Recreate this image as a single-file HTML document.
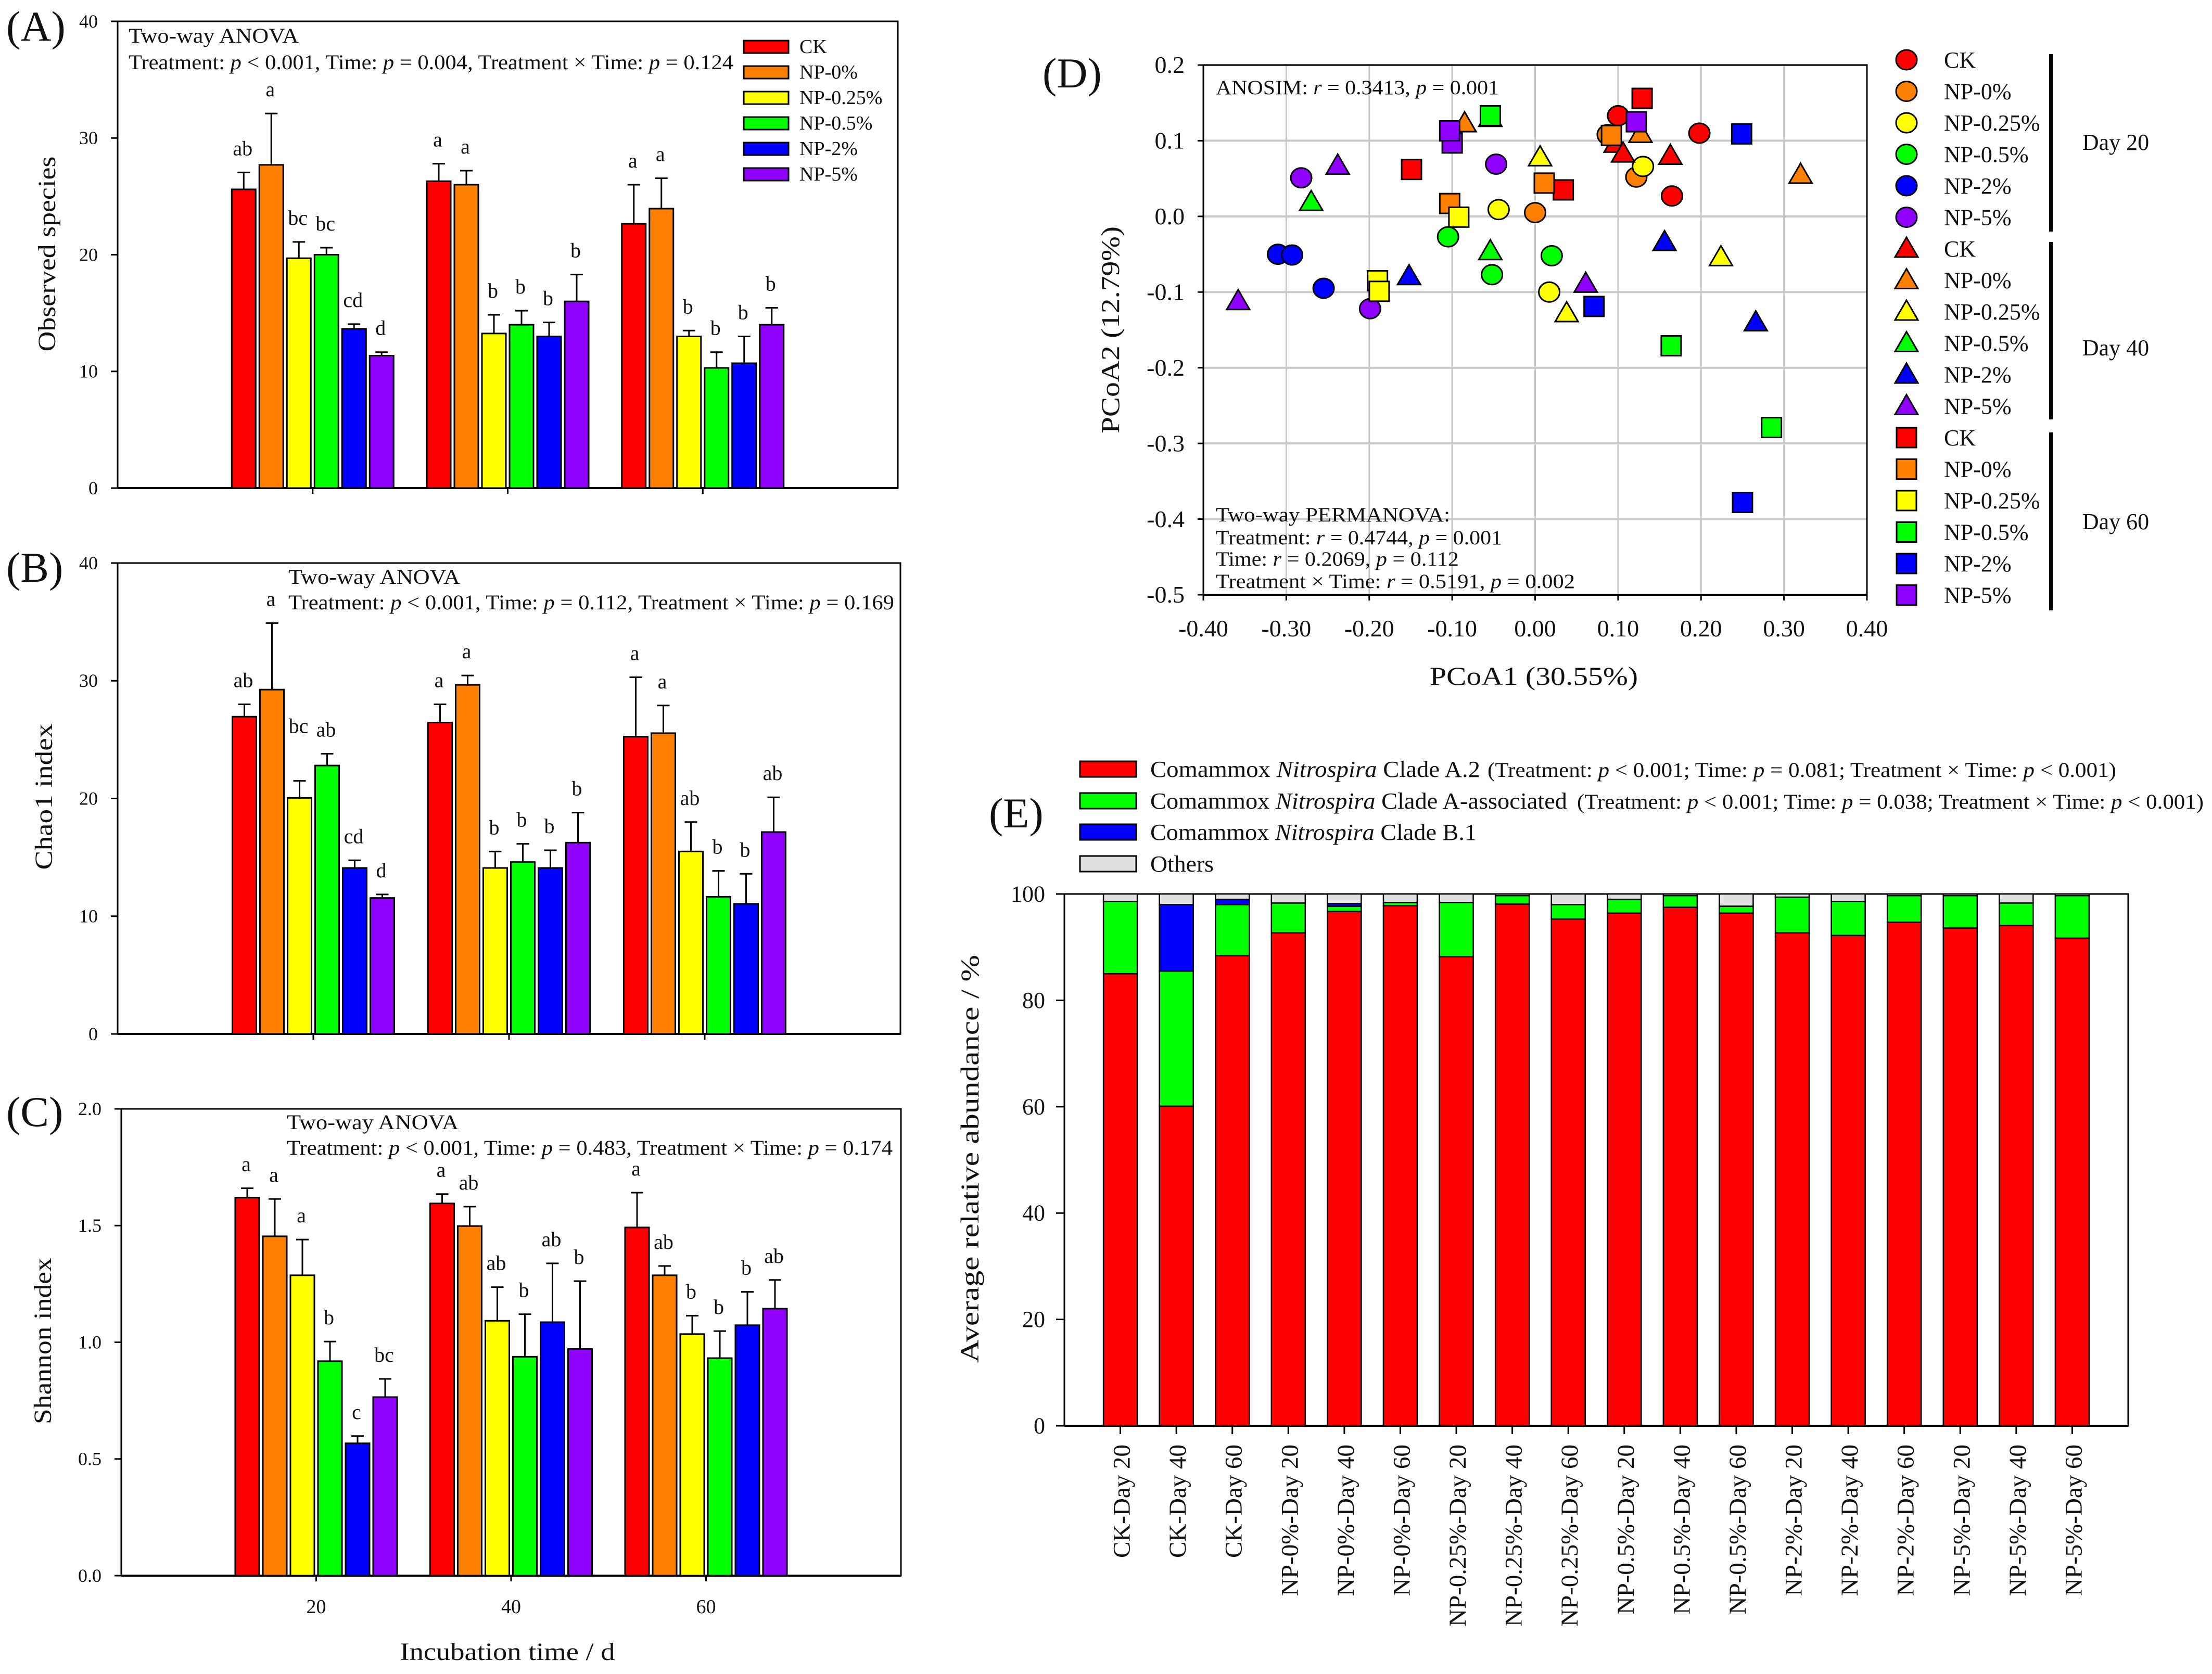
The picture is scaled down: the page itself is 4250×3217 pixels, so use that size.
<!DOCTYPE html>
<html lang="en">
<head>
<meta charset="utf-8">
<title>Comammox Nitrospira diversity and abundance figure</title>
<style>
html,body{margin:0;padding:0;background:#fff}
svg{display:block;font-family:"Liberation Serif","Times New Roman",serif;fill:#000}
text{fill:#111}
.p{font-style:italic}
</style>
</head>
<body>
<svg id="figure" xmlns="http://www.w3.org/2000/svg" width="4250" height="3217" viewBox="0 0 4250 3217">
<rect width="4250" height="3217" fill="#fff"/>

<text x="12" y="78" font-size="82">(A)</text>
<text x="12" y="1118" font-size="82">(B)</text>
<text x="12" y="2164" font-size="82">(C)</text>
<text x="2003" y="168" font-size="82">(D)</text>
<text x="1900" y="1590" font-size="82">(E)</text>

<g id="panelA">
  <text transform="translate(106,488) rotate(-90)" text-anchor="middle" font-size="48" textLength="375" lengthAdjust="spacingAndGlyphs">Observed species</text>
  <text x="247" y="82" font-size="40" textLength="327" lengthAdjust="spacingAndGlyphs">Two-way ANOVA</text>
  <text x="247" y="133" font-size="40" textLength="1162" lengthAdjust="spacingAndGlyphs">Treatment: <tspan class="p">p</tspan> &lt; 0.001, Time: <tspan class="p">p</tspan> = 0.004, Treatment × Time: <tspan class="p">p</tspan> = 0.124</text>
</g>
<g id="panelB">
  <text transform="translate(100,1531) rotate(-90)" text-anchor="middle" font-size="48" textLength="281" lengthAdjust="spacingAndGlyphs">Chao1 index</text>
  <text x="554" y="1122" font-size="40" textLength="330" lengthAdjust="spacingAndGlyphs">Two-way ANOVA</text>
  <text x="554" y="1171" font-size="40" textLength="1164" lengthAdjust="spacingAndGlyphs">Treatment: <tspan class="p">p</tspan> &lt; 0.001, Time: <tspan class="p">p</tspan> = 0.112, Treatment × Time: <tspan class="p">p</tspan> = 0.169</text>
</g>
<g id="panelC">
  <text transform="translate(98,2577) rotate(-90)" text-anchor="middle" font-size="48" textLength="320" lengthAdjust="spacingAndGlyphs">Shannon index</text>
  <text x="551" y="2170" font-size="40" textLength="330" lengthAdjust="spacingAndGlyphs">Two-way ANOVA</text>
  <text x="551" y="2219" font-size="40" textLength="1164" lengthAdjust="spacingAndGlyphs">Treatment: <tspan class="p">p</tspan> &lt; 0.001, Time: <tspan class="p">p</tspan> = 0.483, Treatment × Time: <tspan class="p">p</tspan> = 0.174</text>
  <text x="975" y="3190" text-anchor="middle" font-size="48" textLength="413" lengthAdjust="spacingAndGlyphs">Incubation time / d</text>
</g>
<g id="panelD">
  <text transform="translate(2150,634) rotate(-90)" text-anchor="middle" font-size="50" textLength="398" lengthAdjust="spacingAndGlyphs">PCoA2 (12.79%)</text>
  <text x="2947" y="1316" text-anchor="middle" font-size="50" textLength="400" lengthAdjust="spacingAndGlyphs">PCoA1 (30.55%)</text>
  <text x="4065" y="288" font-size="44" text-anchor="middle">Day 20</text>
  <text x="4065" y="683" font-size="44" text-anchor="middle">Day 40</text>
  <text x="4065" y="1017" font-size="44" text-anchor="middle">Day 60</text>
  <rect x="3937" y="104" width="7" height="341" fill="#000"/>
  <rect x="3937" y="465" width="7" height="341" fill="#000"/>
  <rect x="3937" y="831" width="7" height="342" fill="#000"/>
</g>
<g id="panelDNotes">
  <text x="2336" y="181" font-size="39" textLength="544" lengthAdjust="spacingAndGlyphs">ANOSIM: <tspan class="p">r</tspan> = 0.3413, <tspan class="p">p</tspan> = 0.001</text>
  <text x="2336" y="1002" font-size="39" textLength="450" lengthAdjust="spacingAndGlyphs">Two-way PERMANOVA:</text>
  <text x="2336" y="1046" font-size="39" textLength="550" lengthAdjust="spacingAndGlyphs">Treatment: <tspan class="p">r</tspan> = 0.4744, <tspan class="p">p</tspan> = 0.001</text>
  <text x="2336" y="1087" font-size="39" textLength="467" lengthAdjust="spacingAndGlyphs">Time: <tspan class="p">r</tspan> = 0.2069, <tspan class="p">p</tspan> = 0.112</text>
  <text x="2336" y="1130" font-size="39" textLength="690" lengthAdjust="spacingAndGlyphs">Treatment × Time: <tspan class="p">r</tspan> = 0.5191, <tspan class="p">p</tspan> = 0.002</text>
</g>
<g id="panelE">
  <text transform="translate(1880,2227) rotate(-90)" text-anchor="middle" font-size="50" textLength="784" lengthAdjust="spacingAndGlyphs">Average relative abundance / %</text>
  <rect x="2075" y="1463" width="108" height="30" fill="#ff0000" stroke="#000" stroke-width="3"/>
  <text x="2210" y="1493" font-size="44" textLength="634" lengthAdjust="spacingAndGlyphs">Comammox <tspan class="p">Nitrospira</tspan> Clade A.2</text>
  <text x="2858" y="1493" font-size="40" textLength="1208" lengthAdjust="spacingAndGlyphs">(Treatment: <tspan class="p">p</tspan> &lt; 0.001; Time: <tspan class="p">p</tspan> = 0.081; Treatment × Time:  <tspan class="p">p</tspan> &lt; 0.001)</text>
  <rect x="2075" y="1524" width="108" height="30" fill="#00ff00" stroke="#000" stroke-width="3"/>
  <text x="2210" y="1554" font-size="44" textLength="801" lengthAdjust="spacingAndGlyphs">Comammox <tspan class="p">Nitrospira</tspan> Clade A-associated</text>
  <text x="3030" y="1554" font-size="40" textLength="1204" lengthAdjust="spacingAndGlyphs">(Treatment: <tspan class="p">p</tspan> &lt; 0.001; Time: <tspan class="p">p</tspan> = 0.038; Treatment × Time:  <tspan class="p">p</tspan> &lt; 0.001)</text>
  <rect x="2075" y="1584" width="108" height="30" fill="#0000ff" stroke="#000" stroke-width="3"/>
  <text x="2210" y="1614" font-size="44" textLength="627" lengthAdjust="spacingAndGlyphs">Comammox <tspan class="p">Nitrospira</tspan> Clade B.1</text>
  <rect x="2075" y="1645" width="108" height="30" fill="#e0e0e0" stroke="#000" stroke-width="3"/>
  <text x="2210" y="1675" font-size="44" textLength="122" lengthAdjust="spacingAndGlyphs">Others</text>
</g>
</svg>

<script>
// ---------- Shared categories ----------
const treatments = ["CK", "NP-0%", "NP-0.25%", "NP-0.5%", "NP-2%", "NP-5%"];
const treatmentColors = ["#ff0000", "#ff8000", "#ffff00", "#00ff00", "#0000ff", "#8f00ff"];
const incubationDays = [20, 40, 60];

// ---------- Panel A: observed species ----------
const speciesMeans = [25.6,27.7,19.7,20,13.65,11.35, 26.3,26,13.25,14,13,16, 22.65,23.95,13,10.3,10.7,14];
const speciesErrors = [1.45,4.4,1.4,0.6,0.4,0.3, 1.5,1.2,1.6,1.2,1.2,2.3, 3.35,2.6,0.5,1.35,2.3,1.45];
const speciesLetters = ["ab","a","bc","bc","cd","d", "a","a","b","b","b","b", "a","a","b","b","b","b"];
const speciesTicks = [0, 10, 20, 30, 40];
const speciesTickLabels = ["0", "10", "20", "30", "40"];

// ---------- Panel B: Chao1 index ----------
const chaoMeans = [26.95,29.25,20.05,22.8,14.1,11.55, 26.45,29.65,14.1,14.6,14.1,16.25, 25.25,25.55,15.5,11.65,11.05,17.15];
const chaoErrors = [1.05,5.65,1.45,1,0.65,0.3, 1.55,0.8,1.4,1.55,1.5,2.55, 5.05,2.35,2.5,2.2,2.55,2.95];
const chaoLetters = ["ab","a","bc","ab","cd","d", "a","a","b","b","b","b", "a","a","ab","b","b","ab"];
const chaoTicks = [0, 10, 20, 30, 40];
const chaoTickLabels = ["0", "10", "20", "30", "40"];

// ---------- Panel C: Shannon index ----------
const shannonMeans = [1.62,1.454,1.287,0.919,0.567,0.765, 1.595,1.498,1.092,0.938,1.086,0.971, 1.492,1.287,1.035,0.932,1.073,1.144];
const shannonErrors = [0.04,0.16,0.153,0.084,0.031,0.078, 0.04,0.083,0.144,0.182,0.252,0.291, 0.149,0.04,0.079,0.116,0.143,0.123];
const shannonLetters = ["a","a","a","b","c","bc", "a","ab","ab","b","ab","b", "a","ab","b","b","b","ab"];
const shannonTicks = [0, 0.5, 1, 1.5, 2];
const shannonTickLabels = ["0.0", "0.5", "1.0", "1.5", "2.0"];

// ---------- Panel D: PCoA (three replicates per treatment, in treatment order) ----------
const day20PC1 = [0.1,0.198,0.165, 0.0875,0.122,0, 0.13,-0.044,0.017, -0.105,0.02,-0.052, -0.31,-0.293,-0.255, -0.282,-0.047,-0.199];
const day20PC2 = [0.133,0.11,0.027, 0.108,0.052,0.005, 0.066,0.009,-0.1, -0.027,-0.052,-0.077, -0.05,-0.051,-0.095, 0.051,0.069,-0.122];
const day40PC1 = [0.097,0.106,0.163, 0.127,-0.085,0.32, 0.006,0.224,0.038, -0.27,-0.054,-0.054, 0.156,-0.152,0.266, -0.238,-0.358,0.061];
const day40PC2 = [0.096,0.083,0.08, 0.109,0.123,0.055, 0.078,-0.054,-0.128, 0.019,-0.046,0.13, -0.034,-0.079,-0.14, 0.067,-0.112,-0.089];
const day60PC1 = [0.129,-0.149,0.034, 0.092,0.011,-0.103, -0.092,-0.19,-0.188, -0.054,0.164,0.285, 0.249,0.071,0.25, 0.122,-0.1,-0.103];
const day60PC2 = [0.156,0.062,0.035, 0.107,0.044,0.017, -0.001,-0.085,-0.099, 0.133,-0.171,-0.279, 0.109,-0.119,-0.378, 0.125,0.097,0.113];
const pc1Ticks = [-0.4,-0.3,-0.2,-0.1,0,0.1,0.2,0.3,0.4];
const pc1TickLabels = ["-0.40","-0.30","-0.20","-0.10","0.00","0.10","0.20","0.30","0.40"];
const pc2Ticks = [-0.5,-0.4,-0.3,-0.2,-0.1,0,0.1,0.2];
const pc2TickLabels = ["-0.5","-0.4","-0.3","-0.2","-0.1","0.0","0.1","0.2"];

// ---------- Panel E: stacked abundance ----------
const sampleLabels = ["CK-Day 20","CK-Day 40","CK-Day 60","NP-0%-Day 20","NP-0%-Day 40","NP-0%-Day 60","NP-0.25%-Day 20","NP-0.25%-Day 40","NP-0.25%-Day 60","NP-0.5%-Day 20","NP-0.5%-Day 40","NP-0.5%-Day 60","NP-2%-Day 20","NP-2%-Day 40","NP-2%-Day 60","NP-5%-Day 20","NP-5%-Day 40","NP-5%-Day 60"];
const cladeA2 = [85,60.1,88.4,92.7,96.7,97.8,88.2,98.1,95.3,96.4,97.5,96.4,92.7,92.2,94.7,93.6,94.1,91.7];
const cladeAassociated = [13.6,25.4,9.6,5.6,1,0.6,10.2,1.6,2.7,2.6,2.2,1.3,6.7,6.4,5,6.1,4.2,8];
const cladeB1 = [0,12.5,1,0,0.5,0,0,0,0,0,0,0,0,0,0,0,0,0];
const cladeOthers = [1.4,2,1,1.7,1.8,1.6,1.6,0.3,2,1,0.3,2.3,0.6,1.4,0.3,0.3,1.7,0.3];
const abundanceTicks = [0, 20, 40, 60, 80, 100];
const abundanceTickLabels = ["0", "20", "40", "60", "80", "100"];

// ---------- Helpers ----------
const NS = "http://www.w3.org/2000/svg";
function mk(tag, attrs, parent, txt) {
  const el = document.createElementNS(NS, tag);
  for (const k in attrs) el.setAttribute(k, attrs[k]);
  if (txt !== undefined) el.textContent = txt;
  parent.appendChild(el);
  return el;
}

function drawFrame(g, L, R, T, B) {
  const frame = mk("path", {d: "M"+L+" "+T+"H"+R+"V"+B+"H"+L+"Z", fill: "none", stroke: "#000", "stroke-width": 3}, g);
  
  
  const base = mk("line", {x1: L, x2: R, y1: B, y2: B, stroke: "#000", "stroke-width": 4}, g);
  
  
}

function drawYAxis(g, L, yScale, ticks, labels, size, tickLen, gap) {
  ticks.forEach(function (t, i) {
    const y = yScale(t);
    const tick = mk("line", {x1: L - tickLen, x2: L, y1: y, y2: y, stroke: "#000", "stroke-width": 3}, g);
    
    
    const lab = mk("text", {x: L - gap, y: y + size * 0.33, "text-anchor": "end", "font-size": size}, g, labels[i]);
    
    
  });
}

// ---------- Grouped bar panels ----------
function drawBars(g, c) {
  const x = function (d) { return c.L + (d / 80) * (c.R - c.L); };
  const y = function (v) { return c.B - (v / c.yMax) * (c.B - c.T); };
  const barW = 46, pitch = 53, bars = treatments.length;
  drawFrame(g, c.L, c.R, c.T, c.B);
  drawYAxis(g, c.L, y, c.ticks, c.tickLabels, 36, 13, 38);
  incubationDays.forEach(function (d, gi) {
    const tx = x(d);
    const tick = mk("line", {x1: tx, x2: tx, y1: c.B, y2: c.B + 11, stroke: "#000", "stroke-width": 3}, g);
    
    
    if (c.showDays) {
      const lab = mk("text", {x: tx, y: c.B + 72, "text-anchor": "middle", "font-size": 38}, g, String(d));
      
      
    }
    treatments.forEach(function (name, si) {
      const i = gi * bars + si;
      const bx = tx - (pitch * (bars - 1) + barW) / 2 + si * pitch;
      const cx = bx + barW / 2;
      const top = y(c.means[i]);
      const errTop = y(c.means[i] + c.errors[i]);
      const err = mk("path", {d: "M"+cx+" "+top+"V"+errTop+"M"+(cx-12)+" "+errTop+"H"+(cx+12), fill: "none", stroke: "#000", "stroke-width": 3}, g);
      
      
      const bar = mk("rect", {x: bx, y: top, width: barW, height: c.B - top, fill: treatmentColors[si], stroke: "#000", "stroke-width": 3}, g);
      
      
      const lift = (c.nudge && c.nudge[i]) || 0;
      const letter = mk("text", {x: cx - 2, y: errTop - 33 - lift, "text-anchor": "middle", "font-size": 40}, g, c.letters[i]);
      
      
    });
  });
}
drawBars(document.getElementById("panelA"), {L: 226, R: 1725, T: 41, B: 938, yMax: 40, means: speciesMeans, errors: speciesErrors, letters: speciesLetters, ticks: speciesTicks, tickLabels: speciesTickLabels});
drawBars(document.getElementById("panelB"), {L: 226, R: 1730, T: 1082, B: 1987, yMax: 40, means: chaoMeans, errors: chaoErrors, letters: chaoLetters, ticks: chaoTicks, tickLabels: chaoTickLabels, nudge: {2: 59}});
drawBars(document.getElementById("panelC"), {L: 233, R: 1731, T: 2131, B: 3028, yMax: 2, means: shannonMeans, errors: shannonErrors, letters: shannonLetters, ticks: shannonTicks, tickLabels: shannonTickLabels, showDays: true});

// Legend for panel A
(function () {
  const g = document.getElementById("panelA");
  treatments.forEach(function (name, i) {
    const cy = 90 + i * 49;
    const sw = mk("rect", {x: 1429, y: cy - 12, width: 86, height: 24, fill: treatmentColors[i], stroke: "#000", "stroke-width": 3}, g);
    
    
    const t = mk("text", {x: 1536, y: cy + 12, "font-size": 38}, g, name);
    
    
  });
})();

// ---------- PCoA panel ----------
function marker(g, shape, cx, cy, color) {
  let el;
  if (shape === "circle") {
    el = mk("ellipse", {cx: cx, cy: cy, rx: 20, ry: 19, fill: color, stroke: "#000", "stroke-width": 3}, g);
  } else if (shape === "triangle") {
    el = mk("polygon", {points: cx+","+(cy-22)+" "+(cx-22)+","+(cy+16)+" "+(cx+22)+","+(cy+16), fill: color, stroke: "#000", "stroke-width": 3}, g);
  } else {
    el = mk("rect", {x: cx - 19, y: cy - 19, width: 38, height: 38, fill: color, stroke: "#000", "stroke-width": 3}, g);
  }
  return el;
}
(function () {
  const g = document.getElementById("panelD");
  const L = 2312, R = 3587, T = 125, B = 1143;
  const x = function (v) { return L + (v + 0.4) / 0.8 * (R - L); };
  const y = function (v) { return T + (0.2 - v) / 0.7 * (B - T); };
  pc2Ticks.forEach(function (t) {
    const gl = mk("line", {x1: L, x2: R, y1: y(t), y2: y(t), stroke: "#c8c8c8", "stroke-width": 4}, g);
    
    
  });
  pc1Ticks.forEach(function (t) {
    const gl = mk("line", {x1: x(t), x2: x(t), y1: T, y2: B, stroke: "#c8c8c8", "stroke-width": 3}, g);
    
    
  });
  drawFrame(g, L, R, T, B);
  drawYAxis(g, L, y, pc2Ticks, pc2TickLabels, 46, 11, 36);
  pc1Ticks.forEach(function (t, i) {
    const tick = mk("line", {x1: x(t), x2: x(t), y1: B, y2: B + 11, stroke: "#000", "stroke-width": 3}, g);
    
    
    const lab = mk("text", {x: x(t), y: 1223, "text-anchor": "middle", "font-size": 46}, g, pc1TickLabels[i]);
    
    
  });
  const layers = [["circle", day20PC1, day20PC2], ["triangle", day40PC1, day40PC2], ["square", day60PC1, day60PC2]];
  layers.forEach(function (layer) {
    layer[1].forEach(function (v, i) {
      const color = treatmentColors[Math.floor(i / 3)];
      const m = marker(g, layer[0], x(v), y(layer[2][i]), color);
      
      
    });
  });
  layers.forEach(function (layer, li) {
    treatments.forEach(function (name, si) {
      const cy = 115 + (li * 6 + si) * 60.5;
      const m = marker(g, layer[0], 3663, cy, treatmentColors[si]);
      
      
      const t = mk("text", {x: 3735, y: cy + 15, "font-size": 44}, g, name);
      
      
    });
  });
  // keep statistics text above gridlines
  g.parentNode.appendChild(document.getElementById("panelDNotes"));
})();

// ---------- Stacked bar panel ----------
(function () {
  const g = document.getElementById("panelE");
  const L = 2045, R = 4089, T = 1718, B = 2740;
  const slot = (R - L) / (sampleLabels.length + 1);
  const x = function (i) { return L + (i + 1) * slot; };
  const y = function (v) { return B - (v / 100) * (B - T); };
  const barW = 65;
  const stack = [[cladeA2, "#ff0000", "clade-a2-segment"], [cladeAassociated, "#00ff00", "clade-a-associated-segment"], [cladeB1, "#0000ff", "clade-b1-segment"], [cladeOthers, "#e0e0e0", "others-segment"]];
  drawFrame(g, L, R, T, B);
  drawYAxis(g, L, y, abundanceTicks, abundanceTickLabels, 44, 16, 37);
  sampleLabels.forEach(function (label, i) {
    const cx = x(i);
    let base = 0;
    stack.forEach(function (s) {
      const v = s[0][i];
      if (v > 0) {
        const seg = mk("rect", {x: cx - barW / 2, y: y(base + v), width: barW, height: y(base) - y(base + v), fill: s[1], stroke: "#000", "stroke-width": 2.5}, g);
        
        
      }
      base += v;
    });
    const tick = mk("line", {x1: cx, x2: cx, y1: B, y2: B + 16, stroke: "#000", "stroke-width": 3}, g);
    
    
    const lab = mk("text", {transform: "translate(" + (cx + 18) + ",2776) rotate(-90)", "text-anchor": "end", "font-size": 47}, g, label);
    
    
  });
})();
</script>
</body>
</html>
